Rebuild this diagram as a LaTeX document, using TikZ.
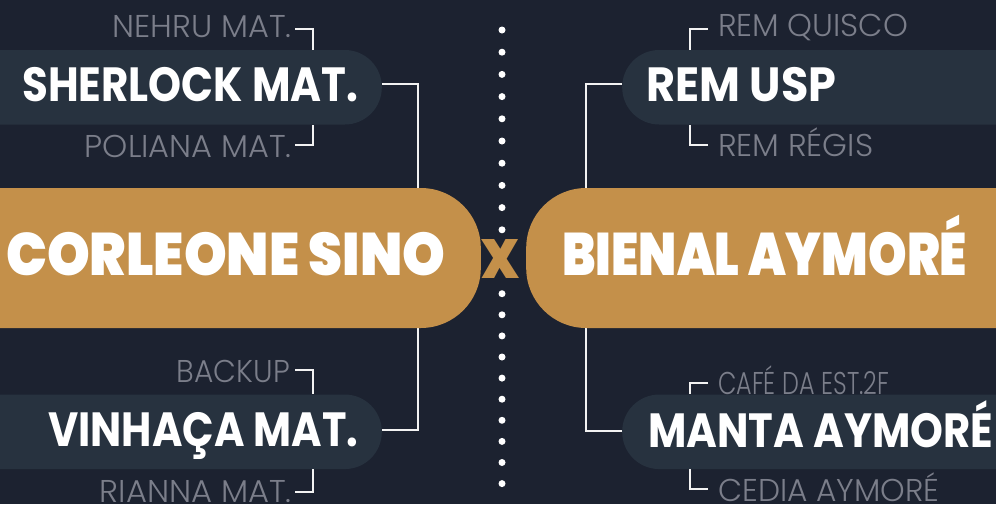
\documentclass[tikz,border=0pt]{standalone}
\usepackage{fontspec}
\usepackage{graphicx}
\setmainfont{Poppins}
\newfontfamily\lightf{Poppins Light}
\newfontfamily\boldf{Poppins Bold}
\newfontfamily\blackf{Poppins Black}
\newcommand\fitx[2]{\resizebox{#1}{\height}{#2}}
\definecolor{bgc}{HTML}{1C2230}
\definecolor{pillc}{HTML}{27323F}
\definecolor{goldc}{HTML}{C4904A}
\definecolor{grayt}{HTML}{7B7E8A}
\definecolor{linec}{HTML}{F2F2F2}
\tikzset{
  pill/.style={fill=pillc, rounded corners=37pt, minimum height=74.5pt, minimum width=480pt, inner sep=0pt},
  goldpill/.style={fill=goldc, rounded corners=60pt, minimum height=140pt, minimum width=600pt, inner sep=0pt},
  smallt/.style={text=grayt, inner sep=0pt, font=\lightf\fontsize{31.5}{36}\selectfont},
  bigt/.style={text=white, inner sep=0pt, font=\boldf\fontsize{48}{54}\selectfont},
  goldt/.style={text=white, inner sep=0pt, font=\blackf\fontsize{60}{66}\selectfont},
  conn/.style={draw=linec, line width=2pt},
  dotc/.style={fill=white}
}
\begin{document}
\begin{tikzpicture}[x=1pt,y=-1pt]
\useasboundingbox (0,0) rectangle (996,504);
\clip (0,0) rectangle (996,504);
\fill[bgc] (0,0) rectangle (996,504);

% pills
\node[pill, anchor=east] (sher) at (382,87.25) {};
\node[pill, anchor=east] (vin) at (382,431.8) {};
\node[pill, anchor=west] (usp) at (622,87.25) {};
\node[pill, anchor=west] (manta) at (622,431.8) {};

% main connectors (under gold pills)
\draw[conn] ([yshift=3pt]sher.east) -- ++(36,0) |- ([yshift=2pt]vin.east);
\draw[conn] ([yshift=3pt]usp.west) -- ++(-36,0) |- ([yshift=1pt]manta.west);

% gold pills
\node[goldpill, anchor=east] (corl) at (481,258) {};
\node[goldpill, anchor=west] (bien) at (526,258) {};

% dots
\foreach \i in {0,...,9} {
  \fill[dotc] (502,{30+22.2*\i}) circle (3.5pt);
  \fill[dotc] (502,{293.7+21.1*\i}) circle (3.5pt);
}

% big texts
\node[bigt, anchor=base west] (shert) at (22,101.7) {\fitx{336pt}{SHERLOCK MAT.}};
\node[bigt, anchor=base west] (vint) at (48,446.7) {\fitx{310pt}{VINHAÇA MAT.}};
\node[bigt, anchor=base west] (uspt) at (646,101.7) {\fitx{190pt}{REM USP}};
\node[bigt, anchor=base west] (mantat) at (648,447) {\fitx{345pt}{MANTA AYMORÉ}};

% gold texts
\node[goldt, anchor=base west] (corlt) at (6,275) {\fitx{439pt}{CORLEONE SINO}};
\node[goldt, anchor=base west] (bient) at (562,275) {\fitx{405pt}{BIENAL AYMORÉ}};
\node[text=goldc, inner sep=0pt] (vs) at (501,258.5) {\resizebox{38pt}{39pt}{\blackf X}};

% small texts
\node[smallt, anchor=base east] (nehru) at (292,37) {\fitx{179pt}{NEHRU MAT.}};
\node[smallt, anchor=base east] (poli) at (292,157) {\fitx{207pt}{POLIANA MAT.}};
\node[smallt, anchor=base east] (back) at (290,382.3) {\fitx{113pt}{BACKUP}};
\node[smallt, anchor=base east] (rian) at (292,502) {\fitx{192pt}{RIANNA MAT.}};
\node[smallt, anchor=base west] (quis) at (718,36.7) {\fitx{190pt}{REM QUISCO}};
\node[smallt, anchor=base west] (regis) at (718,156.7) {\fitx{155pt}{REM RÉGIS}};
\node[smallt, anchor=base west] (cafe) at (718,394.5) {\fitx{171pt}{CAFÉ DA EST.2F}};
\node[smallt, anchor=base west] (cedia) at (718,501) {\fitx{221pt}{CEDIA AYMORÉ}};

% small connectors
\coordinate (c1) at (313,50);
\coordinate (c2) at (313,124.5);
\coordinate (c3) at (313,394.3);
\coordinate (c4) at (313,469.3);
\coordinate (c5) at (689.5,50);
\coordinate (c6) at (689.5,124.5);
\coordinate (c7) at (689.5,394.3);
\coordinate (c8) at (689.5,469.3);
\draw[conn] (295,29.3) -| (c1);
\draw[conn] (295,145) -| (c2);
\draw[conn] (295,370) -| (c3);
\draw[conn] (295,491.7) -| (c4);
\draw[conn] (708,29.3) -| (c5);
\draw[conn] (708,145) -| (c6);
\draw[conn] (708,383.3) -| (c7);
\draw[conn] (708,489.3) -| (c8);
\end{tikzpicture}
\end{document}
